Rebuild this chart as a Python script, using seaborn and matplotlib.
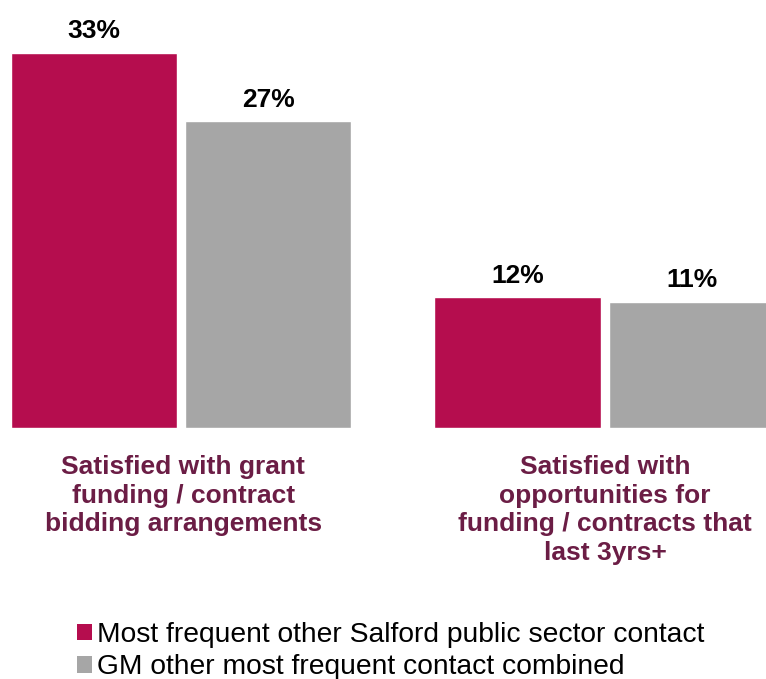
import matplotlib
matplotlib.use("Agg")
import matplotlib.pyplot as plt
import seaborn as sns
import pandas as pd
from matplotlib.patches import Patch

categories = ["Satisfied with grant\nfunding / contract\nbidding arrangements",
              "Satisfied with\nopportunities for\nfunding / contracts that\nlast 3yrs+"]
series_names = ["Most frequent other Salford public sector contact",
                "GM other most frequent contact combined"]
salford_values = [33, 11.5]
gm_values = [27, 11.1]
salford_labels = ["33%", "12%"]
gm_labels = ["27%", "11%"]
colors = ["#B50D4E", "#A6A6A6"]

df = pd.DataFrame({
    "category": categories * 2,
    "series": [series_names[0]] * 2 + [series_names[1]] * 2,
    "value": salford_values + gm_values,
})

sns.set_theme(style="white")
plt.rcParams["font.family"] = ["Liberation Sans", "DejaVu Sans"]

fig = plt.figure(figsize=(7.66, 6.79), dpi=100)
ax = fig.add_axes([0, 0.3697, 1, 0.6303])

sns.barplot(data=df, x="category", y="value", hue="series", order=categories,
            hue_order=series_names, palette=colors, width=0.8225, gap=0.046,
            ax=ax, legend=False, saturation=1)

ax.set_xlim(-0.4274, 1.3813)
ax.set_ylim(0, 37.68)
ax.set_axis_off()

for cont, labels in zip(ax.containers, [salford_labels, gm_labels]):
    ax.bar_label(cont, labels=labels, padding=7, fontsize=19,
                 fontweight="bold", color="black")

for i, cat in enumerate(categories):
    ax.annotate(cat, (i, 0), xytext=(1.5 if i == 0 else 0.5, -19.5),
                textcoords="offset points",
                ha="center", va="top", fontsize=19, fontweight="bold",
                color="#6B1D45", linespacing=1.24, annotation_clip=False)

handles = [Patch(facecolor=c, edgecolor="none") for c in colors]
fig.legend(handles, series_names, loc="lower left", bbox_to_anchor=(0.1005, -0.002),
           frameon=False, fontsize=20.3, handlelength=0.53, handleheight=0.53,
           handletextpad=0.17, labelspacing=0.22, borderpad=0.0,
           borderaxespad=0.0, labelcolor="black")

fig.savefig("out.png", dpi=100)
